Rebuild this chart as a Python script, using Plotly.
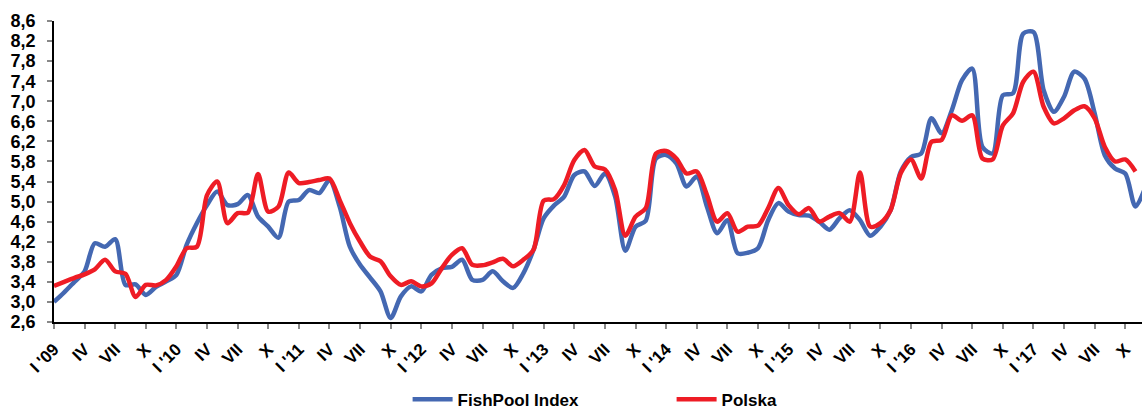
import plotly.graph_objects as go

tick_labels = ["I '09", "IV", "VII", "X", "I '10", "IV", "VII", "X", "I '11", "IV", "VII", "X",
               "I '12", "IV", "VII", "X", "I '13", "IV", "VII", "X", "I '14", "IV", "VII", "X",
               "I '15", "IV", "VII", "X", "I '16", "IV", "VII", "X", "I '17", "IV", "VII", "X"]

fishpool = [
    3.00, 3.19, 3.40, 3.61, 4.17, 4.10, 4.25, 3.34, 3.35, 3.14, 3.30, 3.41,   # 2009
    3.54, 4.14, 4.57, 4.93, 5.20, 4.93, 4.95, 5.13, 4.70, 4.50, 4.28, 5.00,   # 2010
    5.03, 5.23, 5.17, 5.43, 4.90, 4.10, 3.74, 3.48, 3.21, 2.68, 3.11, 3.31,   # 2011
    3.21, 3.54, 3.67, 3.70, 3.84, 3.44, 3.44, 3.61, 3.41, 3.28, 3.57, 4.04,   # 2012
    4.67, 4.92, 5.10, 5.53, 5.60, 5.31, 5.56, 5.10, 4.02, 4.50, 4.62, 5.86,   # 2013
    5.93, 5.76, 5.30, 5.50, 4.90, 4.37, 4.63, 3.97, 3.98, 4.07, 4.63, 4.97,   # 2014
    4.80, 4.73, 4.72, 4.60, 4.44, 4.67, 4.83, 4.63, 4.32, 4.50, 4.83, 5.60,   # 2015
    5.89, 5.96, 6.66, 6.36, 6.82, 7.42, 7.65, 6.09, 5.96, 7.12, 7.16, 8.35,   # 2016
    8.38, 7.22, 6.79, 7.09, 7.59, 7.45, 6.76, 5.92, 5.66, 5.56, 4.90, 5.30,   # 2017
]

polska = [
    3.32, 3.40, 3.48, 3.55, 3.65, 3.84, 3.61, 3.56, 3.10, 3.34, 3.33, 3.44,   # 2009
    3.71, 4.07, 4.10, 5.13, 5.40, 4.57, 4.77, 4.78, 5.55, 4.80, 4.90, 5.58,   # 2010
    5.37, 5.39, 5.43, 5.46, 5.03, 4.57, 4.20, 3.90, 3.81, 3.51, 3.34, 3.41,   # 2011
    3.31, 3.37, 3.67, 3.94, 4.07, 3.74, 3.73, 3.79, 3.86, 3.71, 3.84, 4.04,   # 2012
    5.02, 5.05, 5.33, 5.83, 6.03, 5.70, 5.64, 5.23, 4.32, 4.70, 4.87, 5.96,   # 2013
    6.01, 5.86, 5.56, 5.60, 5.13, 4.60, 4.77, 4.40, 4.50, 4.52, 4.87, 5.27,   # 2014
    4.93, 4.75, 4.87, 4.60, 4.70, 4.77, 4.60, 5.58, 4.50, 4.57, 4.83, 5.57,   # 2015
    5.84, 5.46, 6.19, 6.23, 6.72, 6.61, 6.72, 5.86, 5.84, 6.52, 6.76, 7.39,   # 2016
    7.59, 6.89, 6.56, 6.66, 6.82, 6.90, 6.66, 6.09, 5.80, 5.84, 5.60,         # 2017
]

series_names = ["FishPool Index", "Polska"]
series_colors = ["#4468B2", "#EE1C25"]

x_fp = list(range(len(fishpool)))
x_pl = list(range(len(polska)))
tick_positions = list(range(0, 3 * len(tick_labels), 3))

fig = go.Figure()
fig.add_trace(go.Scatter(x=x_fp, y=fishpool, mode="lines", name=series_names[0],
                         line=dict(color=series_colors[0], width=4.5, shape="spline", smoothing=0.8)))
fig.add_trace(go.Scatter(x=x_pl, y=polska, mode="lines", name=series_names[1],
                         line=dict(color=series_colors[1], width=4.5, shape="spline", smoothing=0.8)))

font_family = "Arial, Liberation Sans, sans-serif"

fig.update_layout(
    template="none",
    width=1142, height=411,
    margin=dict(l=54.3, r=0, t=20.7, b=88.7, autoexpand=False),
    paper_bgcolor="white", plot_bgcolor="white",
    separators=", ",
    font=dict(family=font_family, color="black", size=15),
    showlegend=True,
    legend=dict(orientation="h", x=0.325, xanchor="left", y=-0.258, yanchor="middle",
                font=dict(family=font_family, size=17, color="black", weight="bold"),
                entrywidth=209, itemwidth=40, tracegroupgap=0,
                bgcolor="rgba(0,0,0,0)"),
)

fig.update_xaxes(
    automargin=False,
    range=[0, 106.64], tickmode="array", tickvals=tick_positions, ticktext=tick_labels,
    tickangle=-45, showgrid=False, zeroline=False,
    showline=True, linecolor="black", linewidth=1.5,
    ticks="outside", ticklen=5, tickcolor="#888888", tickwidth=1.5,
    ticklabelstandoff=4,
    tickfont=dict(family=font_family, size=17, color="black", weight="bold"),
)
fig.update_yaxes(
    automargin=False,
    range=[2.6, 8.6], tick0=2.6, dtick=0.4, tickformat=".1f",
    showgrid=False, zeroline=False,
    showline=True, linecolor="black", linewidth=1.5,
    ticks="outside", ticklen=5, tickcolor="#888888", tickwidth=1.5,
    ticklabelstandoff=8,
    tickfont=dict(family=font_family, size=18, color="black", weight="bold"),
)

# remove the browser's default page margin so the figure fills the window exactly
fig.write_html("out.html",
               config={"displayModeBar": False},
               post_script="document.body.style.margin='0px';document.body.style.overflow='hidden';")
